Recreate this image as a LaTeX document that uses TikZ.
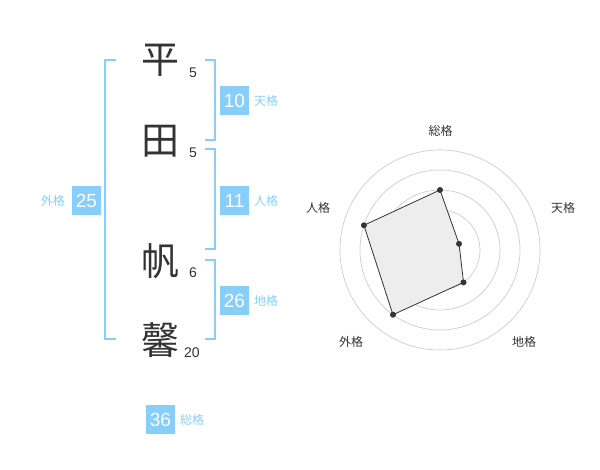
\documentclass[tikz,border=0pt]{standalone}
\usepackage{fontspec}
\setmainfont{Liberation Sans}
\newfontfamily\jpfont{Noto Sans CJK JP}
\definecolor{sky}{HTML}{87CEFA}
\definecolor{ink}{HTML}{333333}
\tikzstyle{kanji}=[font=\jpfont\fontsize{38}{38}\selectfont,text=ink,inner sep=0pt]
\tikzstyle{strokenum}=[font=\fontsize{14}{14}\selectfont,text=ink,inner sep=0pt]
\tikzstyle{score}=[fill=sky,text=white,minimum size=29pt,inner sep=0pt,font=\fontsize{19}{19}\selectfont]
\tikzstyle{kind}=[text=sky,font=\jpfont\fontsize{12}{12}\selectfont,inner sep=0pt]
\tikzstyle{bracket}=[draw=sky,line width=2pt]
\tikzstyle{ring}=[draw=black!20,line width=0.7pt]
\tikzstyle{axis}=[font=\jpfont\fontsize{12}{12}\selectfont,text=ink,inner sep=0pt]
\tikzstyle{dot}=[circle,fill=ink,inner sep=0pt,minimum size=6pt]

\begin{document}
\begin{tikzpicture}[x=1pt,y=-1pt]
        \useasboundingbox (0,0) rectangle (600,470);
        % name
        \node[kanji] (k1) at (160, 60) {平};
        \node[kanji] (k2) at (160, 141) {田};
        \node[kanji] (k3) at (160, 261) {帆};
        \node[kanji] (k4) at (160, 340) {馨};
        \node[strokenum] (n1) at (193, 72.5) {5};
        \node[strokenum] (n2) at (193, 152.5) {5};
        \node[strokenum] (n3) at (193, 272.5) {6};
        \node[strokenum] (n4) at (192, 352.5) {20};
        % brackets
        \path[bracket] (116, 60) -- (105, 60) -- (105, 339) -- (116, 339);
        \path[bracket] (205, 60) -- (215, 60) -- (215, 140) -- (205, 140);
        \path[bracket] (205, 149) -- (215, 149) -- (215, 249) -- (205, 249);
        \path[bracket] (205, 260) -- (215, 260) -- (215, 339) -- (205, 339);
        % scores
        \node[score] (ten) at (234.5, 100.5) {10};
        \node[score] (jin) at (234.5, 200.5) {11};
        \node[score] (gai) at (86.5, 200.5) {25};
        \node[score] (chi) at (234.5, 300.5) {26};
        \node[score] (sou) at (160.5, 419.5) {36};
        \node[kind,anchor=west] at (254, 101) {天格};
        \node[kind,anchor=west] at (254, 201) {人格};
        \node[kind,anchor=east] at (65, 201) {外格};
        \node[kind,anchor=west] at (254, 301) {地格};
        \node[kind,anchor=west] at (180, 420) {総格};
        % radar
        \begin{scope}[shift={(440,250)},y=1pt]
        \foreach \r in {20,40,60,80,100}
            \draw[ring] (0,0) circle (\r);
        \fill[black!20] (0,0) circle (3);
        \coordinate (pSou) at (90:60);
        \coordinate (pTen) at (18:20);
        \coordinate (pChi) at (-54:40);
        \coordinate (pGai) at (-126:80);
        \coordinate (pJin) at (162:80);
        \path[draw=ink,fill=black!7,line width=0.8pt] (pSou) -- (pTen) -- (pChi) -- (pGai) -- (pJin) -- cycle;
        \foreach \p in {pSou,pTen,pChi,pGai,pJin}
            \node[dot] at (\p) {};
        \node[axis] (aSou) at (0.7, 119.5) {総格};
        \node[axis] (aTen) at (123, 42) {天格};
        \node[axis] (aJin) at (-122, 42) {人格};
        \node[axis] (aChi) at (84, -92) {地格};
        \node[axis] (aGai) at (-89, -92) {外格};
        \end{scope}
    \end{tikzpicture}
\end{document}
